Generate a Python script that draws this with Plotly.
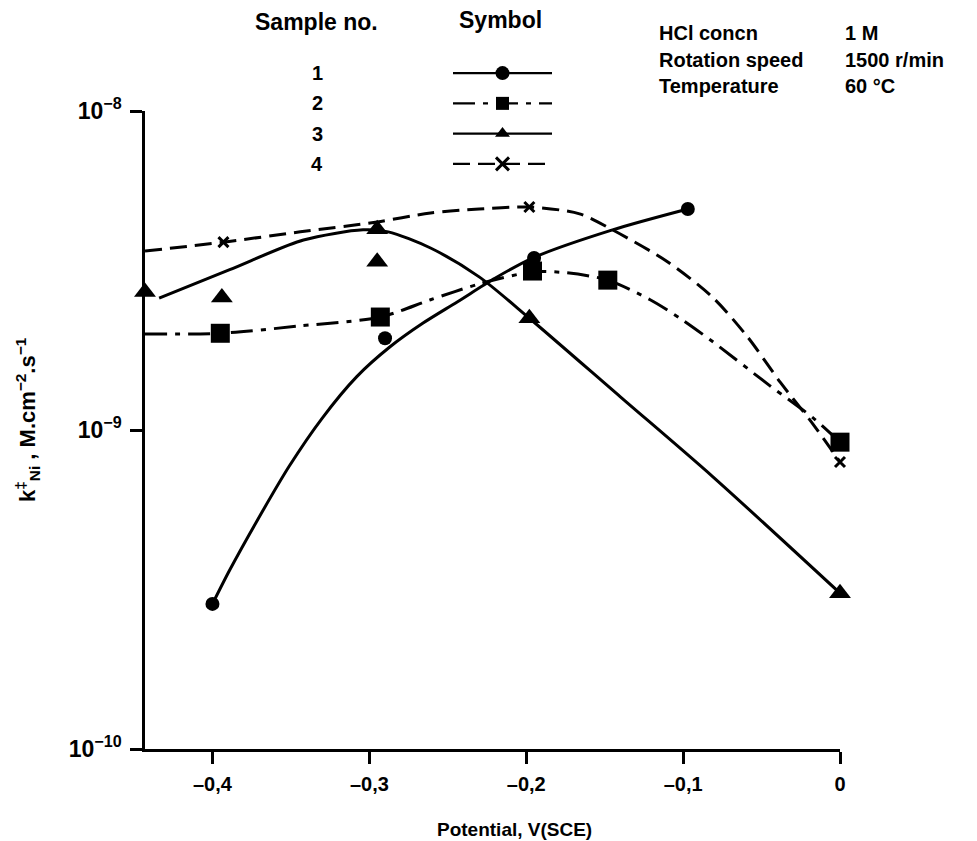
import plotly.graph_objects as go

# ---------------- data ----------------
# Sample 1 : circles, solid fitted curve
s1_x = [-0.4, -0.29, -0.195, -0.097]
s1_y = [2.85e-10, 1.94e-9, 3.46e-9, 4.93e-9]
s1_fit_x = [-0.4, -0.389, -0.372, -0.351, -0.330, -0.308, -0.287, -0.266, -0.244, -0.220, -0.196, -0.145, -0.097]
s1_fit_y = [2.85e-10, 3.64e-10, 5.15e-10, 7.71e-10, 1.09e-9, 1.47e-9, 1.82e-9, 2.16e-9, 2.52e-9, 2.99e-9, 3.46e-9, 4.24e-9, 4.93e-9]

# Sample 2 : squares, dash-dot fitted curve
s2_x = [-0.395, -0.293, -0.196, -0.148, 0.0]
s2_y = [2.01e-9, 2.26e-9, 3.15e-9, 2.95e-9, 9.16e-10]
s2_fit_x = [-0.443, -0.395, -0.344, -0.293, -0.261, -0.230, -0.196, -0.174, -0.148, -0.121, -0.102, -0.081, -0.045, -0.017, 0.0]
s2_fit_y = [2.00e-9, 2.01e-9, 2.12e-9, 2.26e-9, 2.56e-9, 2.87e-9, 3.13e-9, 3.11e-9, 2.95e-9, 2.56e-9, 2.24e-9, 1.89e-9, 1.38e-9, 1.09e-9, 9.16e-10]

# Sample 3 : triangles, solid fitted curve
s3_x = [-0.443, -0.394, -0.295, -0.295, -0.198, 0.0]
s3_y = [2.71e-9, 2.60e-9, 4.26e-9, 3.37e-9, 2.24e-9, 3.08e-10]
s3_fit_x = [-0.434, -0.389, -0.342, -0.304, -0.288, -0.261, -0.230, -0.198, -0.140, -0.081, 0.0]
s3_fit_y = [2.59e-9, 3.18e-9, 3.94e-9, 4.24e-9, 4.18e-9, 3.72e-9, 3.02e-9, 2.24e-9, 1.27e-9, 7.13e-10, 3.08e-10]

# Sample 4 : crosses, dashed fitted curve
s4_x = [-0.445, -0.393, -0.198, 0.0]
s4_y = [3.64e-9, 3.88e-9, 5.00e-9, 7.94e-10]
s4_fit_x = [-0.443, -0.393, -0.344, -0.295, -0.261, -0.230, -0.198, -0.166, -0.145, -0.110, -0.081, -0.059, -0.038, -0.017, 0.0]
s4_fit_y = [3.64e-9, 3.88e-9, 4.18e-9, 4.49e-9, 4.79e-9, 4.93e-9, 5.00e-9, 4.76e-9, 4.24e-9, 3.37e-9, 2.60e-9, 1.96e-9, 1.41e-9, 1.04e-9, 7.94e-10]

x_ticks = [-0.4, -0.3, -0.2, -0.1, 0.0]
x_ticktext = ["\u20130,4", "\u20130,3", "\u20130,2", "\u20130,1", "0"]
y_ticks = [1e-10, 1e-9, 1e-8]
y_ticktext = ["10<sup>\u221210</sup>", "10<sup>\u22129</sup>", "10<sup>\u22128</sup>"]

sample_labels = ["1", "2", "3", "4"]
conditions = ["HCl concn", "Rotation speed", "Temperature"]
condition_values = ["1 M", "1500 r/min", "60 \u00b0C"]

# ---------------- styles ----------------
FONT = "Liberation Sans, Arial, Helvetica, sans-serif"
BLACK = "black"
DASH = "17px,8px"
DASHDOT = "22px,8px,5px,8px"
styles = [
    dict(dash="solid", symbol="circle", size=14, legsize=14),
    dict(dash=DASHDOT, symbol="square", size=19, legsize=13),
    dict(dash="solid", symbol="triangle-up", size=19, legsize=13),
    dict(dash=DASH, symbol="x-thin", size=10, legsize=13),
]
series = [
    (s1_x, s1_y, s1_fit_x, s1_fit_y),
    (s2_x, s2_y, s2_fit_x, s2_fit_y),
    (s3_x, s3_y, s3_fit_x, s3_fit_y),
    (s4_x, s4_y, s4_fit_x, s4_fit_y),
]

fig = go.Figure()
for (px, py, fx, fy), st in zip(series, styles):
    fig.add_trace(go.Scatter(
        x=fx, y=fy, mode="lines", line=dict(color=BLACK, width=3, dash=st["dash"],
                                            shape="spline", smoothing=0.8),
        cliponaxis=False, showlegend=False, hoverinfo="skip"))
    if st["symbol"] == "x-thin":
        mk = dict(symbol="x-thin", size=st["size"], line=dict(color=BLACK, width=3), color=BLACK)
    else:
        mk = dict(symbol=st["symbol"], size=st["size"], color=BLACK, line=dict(width=0))
    fig.add_trace(go.Scatter(x=px, y=py, mode="markers", marker=mk,
                             cliponaxis=False, showlegend=False))

# custom legend ("Symbol" column) drawn on a hidden helper axis
for i, st in enumerate(styles):
    row = i + 1
    fig.add_trace(go.Scatter(x=[-1, 1], y=[row, row], mode="lines", xaxis="x2", yaxis="y2",
                             line=dict(color=BLACK, width=2.2, dash=st["dash"]),
                             showlegend=False, hoverinfo="skip"))
    if st["symbol"] == "x-thin":
        mk = dict(symbol="x-thin", size=st["legsize"], line=dict(color=BLACK, width=3), color=BLACK)
    else:
        mk = dict(symbol=st["symbol"], size=st["legsize"], color=BLACK, line=dict(width=0))
    fig.add_trace(go.Scatter(x=[0], y=[row], mode="markers", xaxis="x2", yaxis="y2",
                             marker=mk, showlegend=False, hoverinfo="skip"))

W, H = 977, 841
ML, MR, MT, MB = 145, 137, 0, 92
PW, PH = W - ML - MR, H - MT - MB

def px_x(p):
    return (p - ML) / PW

def px_y(p):
    return (PH - p) / PH

annotations = []
for i, lab in enumerate(sample_labels):
    annotations.append(dict(text=lab, x=px_x(317), y=i + 1, xref="paper", yref="y2",
                            showarrow=False, xanchor="center", yanchor="middle",
                            font=dict(size=20)))
annotations.append(dict(text="Sample no.", x=px_x(316), y=px_y(22), xref="paper", yref="paper",
                        showarrow=False, xanchor="center", yanchor="middle", font=dict(size=23)))
annotations.append(dict(text="Symbol", x=px_x(500), y=px_y(20), xref="paper", yref="paper",
                        showarrow=False, xanchor="center", yanchor="middle", font=dict(size=23)))
for j, (c, v) in enumerate(zip(conditions, condition_values)):
    yy = [33, 60, 86][j]
    annotations.append(dict(text=c, x=px_x(657), y=px_y(yy), xref="paper", yref="paper",
                            showarrow=False, xanchor="left", yanchor="middle", font=dict(size=20)))
    annotations.append(dict(text=v, x=px_x(843), y=px_y(yy), xref="paper", yref="paper",
                            showarrow=False, xanchor="left", yanchor="middle", font=dict(size=20)))
annotations.append(dict(text="Potential, V(SCE)", x=px_x(514), y=px_y(829), xref="paper", yref="paper",
                        showarrow=False, xanchor="center", yanchor="middle", font=dict(size=19)))
annotations.append(dict(text="k<sup>\u2021</sup><sub>Ni</sub> , M.cm<sup>\u22122</sup>.s<sup>\u22121</sup>",
                        x=px_x(27), y=px_y(420), xref="paper", yref="paper", textangle=-90,
                        showarrow=False, xanchor="center", yanchor="middle", font=dict(size=22)))

fig.update_layout(
    width=W, height=H,
    margin=dict(l=ML, r=MR, t=MT, b=MB, autoexpand=False),
    paper_bgcolor="white", plot_bgcolor="white",
    font=dict(family=FONT, size=18, color=BLACK, weight="bold"),
    showlegend=False,
    xaxis=dict(range=[-0.443, 0.0], tickvals=x_ticks, ticktext=x_ticktext,
               showline=True, linecolor=BLACK, linewidth=2.5, ticks="outside", ticklen=12,
               tickwidth=2.5, tickcolor=BLACK, showgrid=False, zeroline=False,
               ticklabelstandoff=3, anchor="y", tickfont=dict(size=20)),
    yaxis=dict(type="log", range=[-10, -8], tickvals=y_ticks, ticktext=y_ticktext,
               domain=[0, px_y(111)],
               showline=True, linecolor=BLACK, linewidth=2.5, ticks="outside", ticklen=12,
               tickwidth=2.5, tickcolor=BLACK, showgrid=False, zeroline=False,
               ticklabelstandoff=4, anchor="x", tickfont=dict(size=23)),
    xaxis2=dict(domain=[px_x(453), px_x(552)], range=[-1, 1], visible=False, anchor="y2"),
    yaxis2=dict(domain=[px_y(179), px_y(58)], range=[4.5, 0.5], visible=False, anchor="x2"),
    annotations=annotations,
)

fig.write_html("out.html")
